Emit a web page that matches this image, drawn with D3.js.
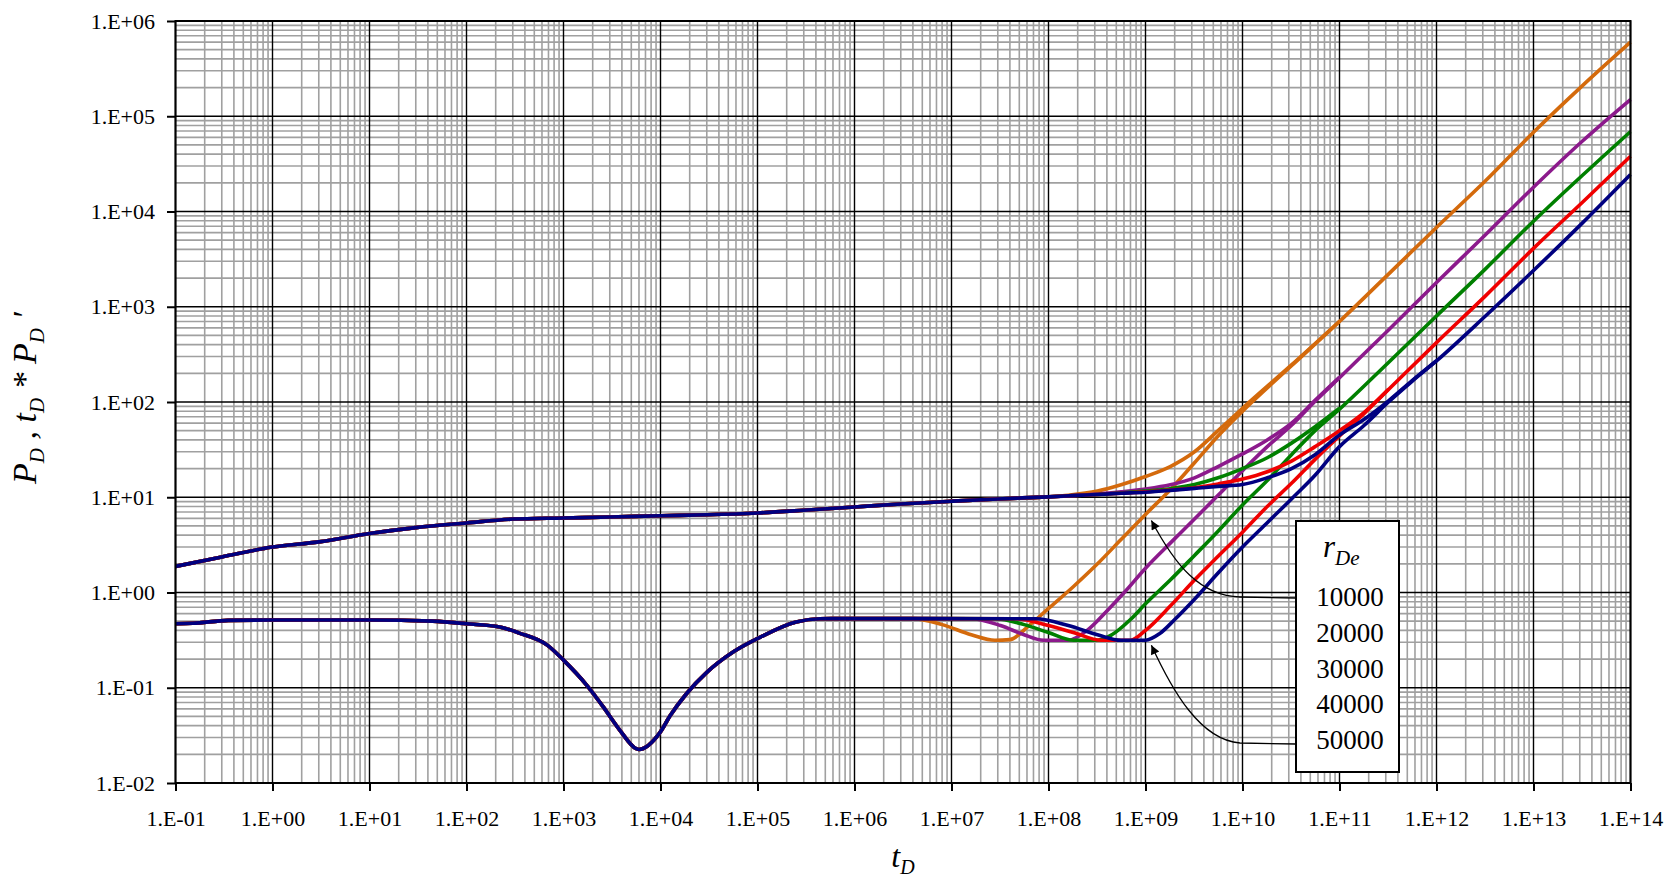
<!DOCTYPE html>
<html>
<head>
<meta charset="utf-8">
<script src="https://cdn.jsdelivr.net/npm/d3@7"></script>
<style>
body { margin: 0; background: #fff; }
text { font-family: "Liberation Serif", "Times New Roman", serif; fill: #000; }
</style>
</head>
<body>
<svg id="chart" width="1667" height="879"></svg>
<script>
// tick labels
const xTickLabels = ["1.E-01","1.E+00","1.E+01","1.E+02","1.E+03","1.E+04","1.E+05","1.E+06","1.E+07","1.E+08","1.E+09","1.E+10","1.E+11","1.E+12","1.E+13","1.E+14"]
const yTickLabels = ["1.E-02","1.E-01","1.E+00","1.E+01","1.E+02","1.E+03","1.E+04","1.E+05","1.E+06"]

const rDe = [10000, 20000, 30000, 40000, 50000]
const colors = ["#D46A0C", "#8C1A8C", "#008000", "#F00000", "#000080"]

// early time, same for every rDe: [tD, PD]
const earlyPD = [[1e-1,1.88],[3e-1,2.36],[1e0,3.0],[3e0,3.4],[1e1,4.16],[3e1,4.8],[1e2,5.37],[3e2,5.9],[1e3,6.06],[3e3,6.2],[1e4,6.4],[3e4,6.55],[1e5,6.84],[3e5,7.3],[1e6,7.9],[3e6,8.5],[1e7,9.08],[3e7,9.6],[1e8,10.1]]
// early time derivative tD*PD'
const earlyDer = [[1e-1,0.47],[1.5e-1,0.475],[3.5e-1,0.51],[1e0,0.515],[1e1,0.515],[4.5e1,0.50],[1e2,0.47],[2.2e2,0.435],[3.5e2,0.375],[6.8e2,0.28],[1e3,0.195],[1.74e3,0.106],[2.57e3,0.063],[3.8e3,0.036],[5.6e3,0.023],[6e3,0.0225],[9.9e3,0.034],[1.26e4,0.051],[1.86e4,0.087],[3e4,0.145],[5.6e4,0.237],[1.07e5,0.34],[2.5e5,0.49],[4.4e5,0.53],[1e6,0.532],[4e6,0.532]]

// late time, one list per rDe
const pdLate10000 = [[1.6e8,10.5],[3.2e8,11.6],[5.6e8,13.5],[1e9,16.5],[1.8e9,21],[3.2e9,30],[5.6e9,50],[1e10,86],[3.2e10,245],[1e11,705]]
const pdLate20000 = [[1.8e8,10.4],[3.2e8,10.8],[5.6e8,11.4],[1e9,12.2],[1.8e9,13.5],[3.2e9,16],[5.6e9,21],[1e10,28.5],[1.8e10,40],[3.2e10,60],[5.6e10,104],[1e11,182]]
const pdLate30000 = [[1.8e8,10.4],[3.2e8,10.7],[5.6e8,11.1],[1e9,11.6],[1.8e9,12.3],[3.2e9,13.6],[5.6e9,16],[1e10,20],[1.8e10,26],[3.2e10,37],[5.6e10,55],[1e11,86]]
const pdLate40000 = [[1.8e8,10.4],[3.2e8,10.7],[5.6e8,11.0],[1e9,11.4],[1.8e9,11.9],[3.2e9,12.6],[5.6e9,13.8],[1e10,15.5],[1.8e10,18.5],[3.2e10,24],[5.6e10,34],[1e11,50],[1.8e11,78],[3.2e11,136]]
const pdLate50000 = [[1.8e8,10.4],[3.2e8,10.7],[5.6e8,11.0],[1e9,11.3],[1.8e9,11.8],[3.2e9,12.4],[5.6e9,13.0],[1e10,13.6],[1.8e10,16],[3.2e10,20],[5.6e10,28],[1e11,45],[1.8e11,66],[3.2e11,103],[5.6e11,168],[1e12,272]]

const derLate10000 = [[8e6,0.46],[1.6e7,0.36],[2.8e7,0.315],[4e7,0.32],[6.3e7,0.45],[1e8,0.68],[1.8e8,1.15],[3.2e8,2.0],[5.6e8,3.6],[1e9,6.6],[1.8e9,12],[3.2e9,23],[5.6e9,44],[1e10,80],[3.2e10,240],[1e11,700],[3.2e11,2200],[1e12,6800],[3.2e12,21000],[1e13,68000],[3.2e13,210000],[1e14,600000]]
const derLate20000 = [[1.6e7,0.53],[3.2e7,0.45],[5.6e7,0.36],[8.9e7,0.315],[1.6e8,0.315],[2.5e8,0.40],[4e8,0.64],[6.3e8,1.05],[1e9,1.8],[1.8e9,3.3],[3.2e9,5.9],[5.6e9,10.5],[1e10,19],[1.8e10,34],[3.2e10,57],[5.6e10,102],[1e11,180],[3.2e11,570],[1e12,1800],[3.2e12,5700],[1e13,18000],[3.2e13,55000],[1e14,150000]]
const derLate30000 = [[2.8e7,0.53],[5.6e7,0.46],[1e8,0.38],[1.8e8,0.315],[3.2e8,0.315],[4.5e8,0.36],[7e8,0.52],[1e9,0.76],[1.8e9,1.35],[3.2e9,2.45],[5.6e9,4.4],[1e10,8.3],[1.8e10,15],[3.2e10,28],[5.6e10,50],[1e11,84],[3.2e11,260],[1e12,800],[3.2e12,2500],[1e13,7900],[3.2e13,24000],[1e14,69000]]
const derLate40000 = [[4.5e7,0.53],[1e8,0.45],[1.8e8,0.38],[3.5e8,0.315],[7e8,0.315],[1e9,0.40],[1.8e9,0.72],[3.2e9,1.35],[5.6e9,2.4],[1e10,4.3],[1.8e10,8],[3.2e10,14],[5.6e10,25],[1e11,44],[1.8e11,76],[3.2e11,135],[1e12,420],[3.2e12,1300],[1e13,4100],[3.2e13,12500],[1e14,38000]]
const derLate50000 = [[7.4e7,0.53],[1.6e8,0.45],[3.2e8,0.36],[5.6e8,0.315],[1e9,0.315],[1.4e9,0.37],[2e9,0.52],[3.2e9,0.85],[5.6e9,1.6],[1e10,3.0],[1.8e10,5.4],[3.2e10,9.6],[5.6e10,17],[1e11,34],[1.8e11,57],[3.2e11,100],[5.6e11,165],[1e12,270],[3.2e12,800],[1e13,2400],[3.2e13,7600],[1e14,24500]]

const pdLate = [pdLate10000, pdLate20000, pdLate30000, pdLate40000, pdLate50000]
const derLate = [derLate10000, derLate20000, derLate30000, derLate40000, derLate50000]

// arrow tips (tD, value)
const arrowTips = [[1.15e9, 5.7], [1.15e9, 0.28]]

// chart
const plotL = 175.5, plotR = 1630.5, plotT = 21, plotB = 783

const svg = d3.select("#chart")

const x = d3.scaleLog().domain([1e-1, 1e14]).range([plotL, plotR])
const y = d3.scaleLog().domain([1e-2, 1e6]).range([plotB, plotT])

const xDecades = d3.range(-1, 15).map(e => Math.pow(10, e))
const yDecades = d3.range(-2, 7).map(e => Math.pow(10, e))

function minors(decades){
    let l = []
    for (let i = 0; i < decades.length - 1; i++){
        for (let k = 2; k <= 9; k++) l.push(decades[i] * k)
    }
    return l
}

// grid
const grid = svg.append("g")
grid.selectAll(".vmin").data(minors(xDecades)).enter().append("line")
    .attr("x1", d => x(d)).attr("x2", d => x(d))
    .attr("y1", plotT).attr("y2", plotB)
    .attr("stroke", "#a0a0a0").attr("stroke-width", 1.6)
grid.selectAll(".hmin").data(minors(yDecades)).enter().append("line")
    .attr("y1", d => y(d)).attr("y2", d => y(d))
    .attr("x1", plotL).attr("x2", plotR)
    .attr("stroke", "#a0a0a0").attr("stroke-width", 1.6)
grid.selectAll(".vmaj").data(xDecades).enter().append("line")
    .attr("x1", d => x(d)).attr("x2", d => x(d))
    .attr("y1", plotT).attr("y2", plotB)
    .attr("stroke", "#000").attr("stroke-width", 1.4)
grid.selectAll(".hmaj").data(yDecades).enter().append("line")
    .attr("y1", d => y(d)).attr("y2", d => y(d))
    .attr("x1", plotL).attr("x2", plotR)
    .attr("stroke", "#000").attr("stroke-width", 1.4)

// curves
const line = d3.line()
    .x(d => x(d[0]))
    .y(d => y(d[1]))
    .curve(d3.curveMonotoneX)

const curves = svg.append("g")
rDe.forEach((r, i) => {
    curves.append("path")
        .datum(earlyPD.concat(pdLate[i]))
        .attr("d", line)
        .attr("fill", "none")
        .attr("stroke", colors[i])
        .attr("stroke-width", 3.6)
        .attr("stroke-linejoin", "round")
    curves.append("path")
        .datum(earlyDer.concat(derLate[i]))
        .attr("d", line)
        .attr("fill", "none")
        .attr("stroke", colors[i])
        .attr("stroke-width", 3.6)
        .attr("stroke-linejoin", "round")
})

// frame
svg.append("rect")
    .attr("x", plotL).attr("y", plotT)
    .attr("width", plotR - plotL).attr("height", plotB - plotT)
    .attr("fill", "none").attr("stroke", "#000").attr("stroke-width", 2)

// axes
svg.append("g")
    .attr("transform", "translate(0," + plotB + ")")
    .call(d3.axisBottom(x).tickValues(xDecades)
        .tickFormat((d, i) => xTickLabels[i])
        .tickSize(8).tickSizeOuter(0).tickPadding(19))
svg.append("g")
    .attr("transform", "translate(" + plotL + ",0)")
    .call(d3.axisLeft(y).tickValues(yDecades)
        .tickFormat((d, i) => yTickLabels[i])
        .tickSize(8.5).tickSizeOuter(0).tickPadding(12))
svg.selectAll(".domain").remove()
svg.selectAll(".tick line").attr("stroke", "#000").attr("stroke-width", 2)
svg.selectAll(".tick text")
    .style("font-family", "'Liberation Serif', 'Times New Roman', serif")
    .style("font-size", "22px")
    .attr("fill", "#000")

// axis titles
const xt = svg.append("text")
    .attr("x", (plotL + plotR) / 2).attr("y", 867)
    .attr("text-anchor", "middle")
    .style("font-size", "32px").style("font-style", "italic")
xt.append("tspan").text("t")
xt.append("tspan").attr("dy", 7).style("font-size", "20px").text("D")

const yt = svg.append("text")
    .attr("transform", "translate(36,398) rotate(-90)")
    .attr("text-anchor", "middle")
    .style("font-size", "34px").style("font-style", "italic")
yt.append("tspan").text("P")
yt.append("tspan").attr("dy", 8).style("font-size", "21px").text("D")
yt.append("tspan").attr("dy", -8).text(" , t")
yt.append("tspan").attr("dy", 8).style("font-size", "21px").text("D")
yt.append("tspan").attr("dy", -8).text(" * P")
yt.append("tspan").attr("dy", 8).style("font-size", "21px").text("D")
yt.append("tspan").attr("dy", -8).text(" \u2032")

// legend
const lg = svg.append("g")
lg.append("rect")
    .attr("x", 1296).attr("y", 521).attr("width", 103).attr("height", 251)
    .attr("fill", "#fff").attr("stroke", "#000").attr("stroke-width", 2)
const lt = lg.append("text")
    .attr("x", 1323).attr("y", 557)
    .style("font-size", "31px").style("font-style", "italic")
lt.append("tspan").text("r")
lt.append("tspan").attr("dy", 8).style("font-size", "21px").text("De")
lg.selectAll(".rv").data(rDe).enter().append("text")
    .attr("x", 1350).attr("y", (d, i) => 606 + i * 35.8)
    .attr("text-anchor", "middle")
    .style("font-size", "27px")
    .text(d => d)

// arrows
const defs = svg.append("defs")
defs.append("marker")
    .attr("id", "ah").attr("viewBox", "0 0 10 10")
    .attr("refX", 10).attr("refY", 5)
    .attr("markerWidth", 13).attr("markerHeight", 9)
    .attr("markerUnits", "userSpaceOnUse")
    .attr("orient", "auto")
    .append("path").attr("d", "M0,0 L10,5 L0,10 z").attr("fill", "#000")

const t1 = arrowTips[0], t2 = arrowTips[1]
const p1 = [x(t1[0]), y(t1[1])], p2 = [x(t2[0]), y(t2[1])]
svg.append("path")
    .attr("d", "M1296,598 L1240,597 C1200,596 1175,565 " + p1[0] + "," + p1[1])
    .attr("fill", "none").attr("stroke", "#000").attr("stroke-width", 1.3)
    .attr("marker-end", "url(#ah)")
svg.append("path")
    .attr("d", "M1296,744 L1240,743 C1200,740 1172,690 " + p2[0] + "," + p2[1])
    .attr("fill", "none").attr("stroke", "#000").attr("stroke-width", 1.3)
    .attr("marker-end", "url(#ah)")
</script>
</body>
</html>
